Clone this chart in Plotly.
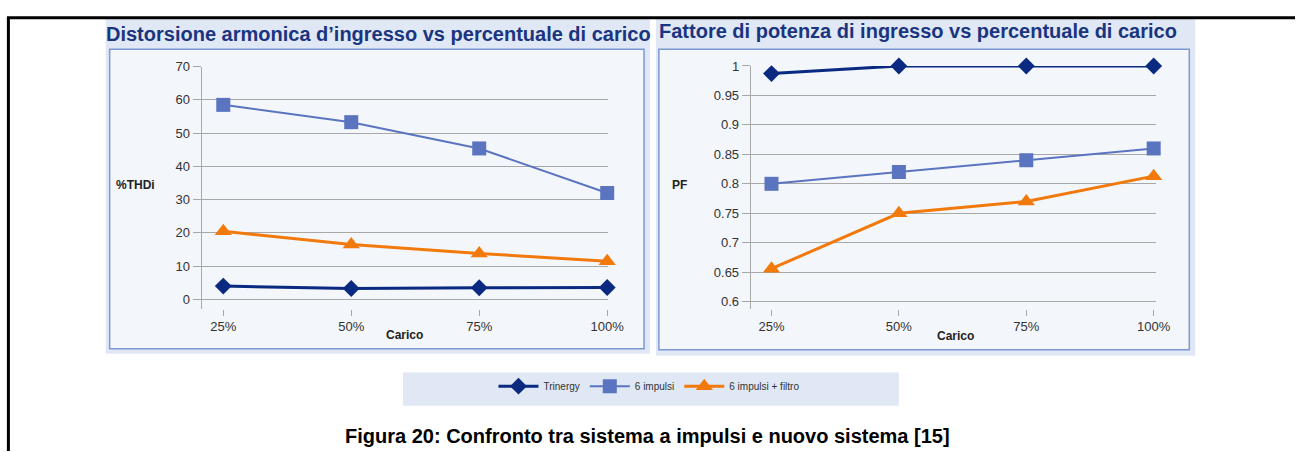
import plotly.graph_objects as go

W, H = 1311, 452

carico = ["25%", "50%", "75%", "100%"]

thdi_trinergy = [4.0, 3.3, 3.5, 3.6]
thdi_6imp = [58.5, 53.3, 45.4, 32.0]
thdi_6imp_filtro = [20.5, 16.5, 13.8, 11.5]

pf_trinergy = [0.987, 1.0, 1.0, 1.0]
pf_6imp = [0.80, 0.82, 0.84, 0.86]
pf_6imp_filtro = [0.656, 0.75, 0.77, 0.813]

serie = ["Trinergy", "6 impulsi", "6 impulsi + filtro"]

NAVY = "#0a2a82"
STEEL = "#5b74c0"
ORANGE = "#f27a0c"
GRID = "#a8a8a8"
TITLE = "#1b3480"
FONT = "Arial, Liberation Sans, sans-serif"


def px(x):
    return x / W


def py(y):
    return 1 - y / H


styles = [
    dict(color=NAVY, width=3, symbol="diamond", size=13),
    dict(color=STEEL, width=2, symbol="square", size=14),
    dict(color=ORANGE, width=3, symbol="triangle-up", size=15),
]

fig = go.Figure()

for i, (ys, st) in enumerate(zip([thdi_trinergy, thdi_6imp, thdi_6imp_filtro], styles)):
    fig.add_trace(go.Scatter(
        x=carico, y=ys, name=serie[i], mode="lines+markers",
        line=dict(color=st["color"], width=st["width"]),
        marker=dict(symbol=st["symbol"], size=st["size"], color=st["color"]),
        xaxis="x", yaxis="y", cliponaxis=False, showlegend=True))

for i, (ys, st) in enumerate(zip([pf_trinergy, pf_6imp, pf_6imp_filtro], styles)):
    fig.add_trace(go.Scatter(
        x=carico, y=ys, name=serie[i], mode="lines+markers",
        line=dict(color=st["color"], width=st["width"]),
        marker=dict(symbol=st["symbol"], size=st["size"], color=st["color"]),
        xaxis="x2", yaxis="y2", cliponaxis=False, showlegend=False))

tickfont = dict(family=FONT, size=13, color="#333333")

xcommon = dict(type="category", showgrid=False, zeroline=False, showline=False,
               ticks="outside", ticklen=6, tickcolor=GRID, tickfont=tickfont)
ycommon = dict(showgrid=True, gridcolor=GRID, gridwidth=1, zeroline=False,
               showline=True, linecolor=GRID, linewidth=1,
               ticks="outside", ticklen=8, tickcolor=GRID, tickfont=tickfont)

fig.update_layout(
    width=W, height=H,
    margin=dict(l=0, r=0, t=0, b=0),
    paper_bgcolor="white",
    plot_bgcolor="rgba(0,0,0,0)",
    font=dict(family=FONT),
    xaxis=dict(xcommon, domain=[px(204), px(616)], range=[-0.17, 3.01], anchor="y"),
    yaxis=dict(ycommon, domain=[py(307), py(60.7)], range=[-2.75, 70], dtick=10, anchor="x"),
    xaxis2=dict(xcommon, domain=[px(760), px(1170)], range=[-0.163, 3.016], anchor="y2"),
    yaxis2=dict(ycommon, domain=[py(307), py(60)], range=[0.5883, 1.0], dtick=0.05,
                tickformat="~g", anchor="x2"),
    legend=dict(orientation="h", x=px(657), xanchor="center", y=py(386), yanchor="middle",
                bgcolor="rgba(0,0,0,0)", font=dict(family=FONT, size=10, color="#333"),
                itemwidth=40, tracegroupgap=0),
    showlegend=True,
)

shapes = [
    # left panel
    dict(type="rect", x0=px(107), x1=px(658), y0=py(353), y1=py(12),
         fillcolor="#dfe8f4", line=dict(width=0)),
    dict(type="rect", x0=px(111), x1=px(652), y0=py(348), y1=py(43),
         fillcolor="#f3f6fb", line=dict(color="#7d98d4", width=1.5)),
    # right panel
    dict(type="rect", x0=px(664), x1=px(1210), y0=py(355), y1=py(12),
         fillcolor="#dfe8f4", line=dict(width=0)),
    dict(type="rect", x0=px(667), x1=px(1204), y0=py(349), y1=py(43),
         fillcolor="#f3f6fb", line=dict(color="#7d98d4", width=1.5)),
    # legend box
    dict(type="rect", x0=px(408), x1=px(910), y0=py(406), y1=py(372),
         fillcolor="#dfe8f4", line=dict(width=0)),
    # frame
    dict(type="line", x0=px(7), x1=1, y0=py(11), y1=py(11), line=dict(color="black", width=3)),
    dict(type="line", x0=px(8.5), x1=px(8.5), y0=py(11), y1=0, line=dict(color="black", width=3)),
]
for s in shapes:
    s.update(xref="paper", yref="paper", layer="below")
fig.update_layout(shapes=shapes)

bold_small = dict(family=FONT, size=12, color="#222")
annotations = [
    dict(x=px(383), y=py(27), text="<b>Distorsione armonica d’ingresso vs percentuale di carico</b>",
         font=dict(family=FONT, size=20, color=TITLE)),
    dict(x=px(929), y=py(24), text="<b>Fattore di potenza di ingresso vs percentuale di carico</b>",
         font=dict(family=FONT, size=20, color=TITLE)),
    dict(x=px(137), y=py(181), text="<b>%THDi</b>", font=bold_small),
    dict(x=px(688), y=py(181), text="<b>PF</b>", font=bold_small),
    dict(x=px(410), y=py(334), text="<b>Carico</b>", font=bold_small),
    dict(x=px(967), y=py(335), text="<b>Carico</b>", font=bold_small),
    dict(x=px(656), y=py(437), text="<b>Figura 20: Confronto tra sistema a impulsi e nuovo sistema [15]</b>",
         font=dict(family=FONT, size=20, color="black")),
]
for a in annotations:
    a.update(xref="paper", yref="paper", showarrow=False, xanchor="center", yanchor="middle")
fig.update_layout(annotations=annotations)

# drop the default page margin so the figure fills the window exactly
fig.write_html("out.html", config={"displayModeBar": False},
               post_script="document.body.style.margin = '0';")
